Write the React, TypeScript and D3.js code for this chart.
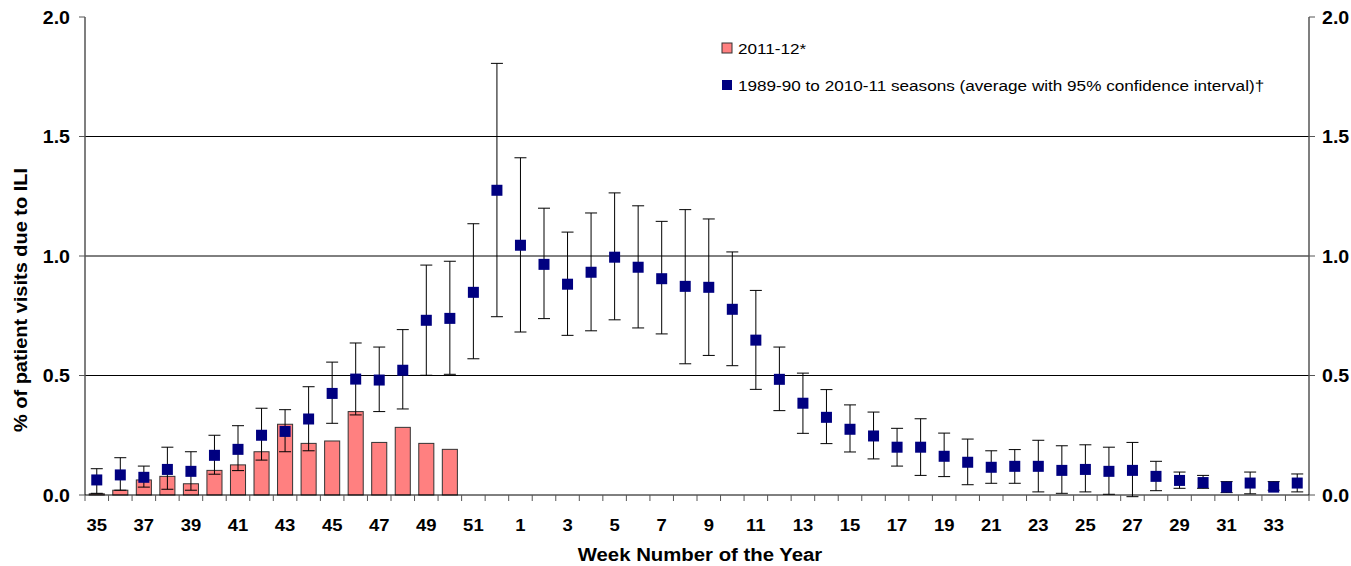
import React from "react";
import * as d3 from "d3";

const weeks: number[] = [
  35, 36, 37, 38, 39, 40, 41, 42, 43, 44, 45, 46, 47, 48, 49, 50, 51, 52,
  1, 2, 3, 4, 5, 6, 7, 8, 9, 10, 11, 12, 13, 14, 15, 16, 17, 18, 19, 20,
  21, 22, 23, 24, 25, 26, 27, 28, 29, 30, 31, 32, 33, 34,
];

const season2011: (number | null)[] = [
  0.005, 0.02, 0.063, 0.078, 0.047, 0.103, 0.126, 0.181, 0.296, 0.216, 0.226,
  0.349, 0.22, 0.283, 0.216, 0.191,
];

const avgValues: number[] = [
  0.063, 0.084, 0.074, 0.107, 0.099, 0.166, 0.191, 0.25, 0.266, 0.318, 0.425,
  0.485, 0.481, 0.522, 0.731, 0.739, 0.848, 1.275, 1.045, 0.965, 0.882, 0.932,
  0.995, 0.953, 0.905, 0.873, 0.869, 0.777, 0.648, 0.484, 0.384, 0.325, 0.275,
  0.247, 0.2, 0.2, 0.162, 0.137, 0.116, 0.12, 0.12, 0.103, 0.107, 0.099, 0.103,
  0.078, 0.061, 0.052, 0.033, 0.05, 0.033, 0.05,
];

const lowerCI: number[] = [
  0.007, 0.02, 0.033, 0.024, 0.02, 0.087, 0.102, 0.146, 0.181, 0.185, 0.3,
  0.335, 0.349, 0.36, 0.501, 0.505, 0.57, 0.746, 0.682, 0.738, 0.668, 0.687,
  0.733, 0.699, 0.674, 0.549, 0.584, 0.541, 0.442, 0.353, 0.258, 0.215, 0.18,
  0.151, 0.121, 0.082, 0.077, 0.043, 0.049, 0.049, 0.013, 0.007, 0.013, 0.003,
  -0.007, 0.018, 0.028, 0.028, 0.01, 0.005, 0.02, 0.013,
];

const upperCI: number[] = [
  0.11, 0.156, 0.121, 0.2, 0.181, 0.25, 0.29, 0.363, 0.357, 0.453, 0.556,
  0.636, 0.619, 0.692, 0.962, 0.978, 1.135, 1.806, 1.411, 1.2, 1.1, 1.18,
  1.264, 1.21, 1.145, 1.194, 1.155, 1.017, 0.856, 0.619, 0.51, 0.441, 0.377,
  0.347, 0.279, 0.319, 0.259, 0.234, 0.185, 0.19, 0.229, 0.206, 0.21, 0.2,
  0.22, 0.141, 0.096, 0.082, 0.056, 0.096, 0.056, 0.088,
];

const yTicks: number[] = [0, 0.5, 1.0, 1.5, 2.0];
const gridValues: number[] = [0.5, 1.0, 1.5];

const legendLabels: string[] = [
  "2011-12*",
  "1989-90 to 2010-11 seasons (average with 95% confidence interval)†",
];

const W = 1351;
const H = 566;
const left = 85;
const right = 1309;
const top = 17;
const bottom = 495;
const FONT = "'Liberation Sans', Arial, sans-serif";
const PINK = "#FF8080";
const NAVY = "#000080";
const SX = 1.12;

function T(props: {
  x: number;
  y: number;
  size: number;
  bold?: boolean;
  anchor?: "start" | "middle" | "end";
  rotate?: number;
  sx?: number;
  children: React.ReactNode;
}) {
  const { x, y, size, bold, anchor = "start", rotate = 0, sx = SX, children } = props;
  return (
    <text
      transform={`translate(${x},${y}) rotate(${rotate}) scale(${sx},1)`}
      fontSize={size}
      fontWeight={bold ? "bold" : "normal"}
      textAnchor={anchor}
      fill="#000"
    >
      {children}
    </text>
  );
}

export default function App() {
  const keys = weeks.map((w, i) => `${i}-${w}`);
  const x = d3.scaleBand<string>().domain(keys).range([left, right]).padding(0);
  const bw = x.bandwidth();
  const y = d3.scaleLinear().domain([0, 2]).range([bottom, top]);
  const cx = (i: number) => (x(keys[i]) as number) + bw / 2;
  const barW = bw * 0.64;
  const capW = 12;
  const marker = 11;

  return (
    <svg
      width={W}
      height={H}
      style={{ position: "absolute", left: 0, top: 0, background: "#fff" }}
      fontFamily={FONT}
    >
      {gridValues.map((v) => (
        <line key={v} x1={left} x2={right} y1={y(v)} y2={y(v)} stroke="#000" strokeWidth={1} />
      ))}

      {season2011.map((v, i) =>
        v == null ? null : (
          <rect
            key={i}
            x={cx(i) - barW / 2}
            y={y(v)}
            width={barW}
            height={y(0) - y(v)}
            fill={PINK}
            stroke="#333"
            strokeWidth={1}
          />
        )
      )}

      {avgValues.map((_, i) => (
        <g key={i} stroke="#000" strokeWidth={1}>
          <line x1={cx(i)} x2={cx(i)} y1={y(lowerCI[i])} y2={y(upperCI[i])} />
          <line x1={cx(i) - capW / 2} x2={cx(i) + capW / 2} y1={y(upperCI[i])} y2={y(upperCI[i])} />
          <line x1={cx(i) - capW / 2} x2={cx(i) + capW / 2} y1={y(lowerCI[i])} y2={y(lowerCI[i])} />
        </g>
      ))}

      {avgValues.map((v, i) => (
        <rect
          key={i}
          x={cx(i) - marker / 2}
          y={y(v) - marker / 2}
          width={marker}
          height={marker}
          fill={NAVY}
        />
      ))}

      <line x1={left} x2={left} y1={top} y2={bottom} stroke="#555" strokeWidth={1.5} />
      <line x1={right} x2={right} y1={top} y2={bottom} stroke="#555" strokeWidth={1.5} />
      <line x1={left} x2={right} y1={bottom} y2={bottom} stroke="#000" strokeWidth={1} />

      {keys.map((k) => (
        <line
          key={k}
          x1={x(k) as number}
          x2={x(k) as number}
          y1={bottom}
          y2={bottom + 6}
          stroke="#555"
        />
      ))}
      <line x1={right} x2={right} y1={bottom} y2={bottom + 6} stroke="#555" />

      {weeks.map((w, i) =>
        i % 2 === 0 ? (
          <T key={i} x={cx(i)} y={531} size={16.5} bold anchor="middle">
            {w}
          </T>
        ) : null
      )}

      {yTicks.map((v) => (
        <g key={v}>
          <line x1={left - 6} x2={left} y1={y(v)} y2={y(v)} stroke="#555" />
          <line x1={right} x2={right + 6} y1={y(v)} y2={y(v)} stroke="#555" />
          <T x={70} y={y(v) + 6.5} size={17.5} bold anchor="end">
            {d3.format(".1f")(v)}
          </T>
          <T x={1322} y={y(v) + 6.5} size={17.5} bold anchor="start">
            {d3.format(".1f")(v)}
          </T>
        </g>
      ))}

      <T x={700} y={561} size={18.5} bold anchor="middle" sx={1.1}>
        Week Number of the Year
      </T>
      <T x={27} y={300} size={18.5} bold anchor="middle" rotate={-90} sx={1.08}>
        % of patient visits due to ILI
      </T>

      <rect x={722} y={43} width={10} height={10} fill={PINK} stroke="#333" strokeWidth={1} />
      <T x={738} y={54} size={15.3}>
        {legendLabels[0]}
      </T>
      <rect x={722} y={80} width={10} height={10} fill={NAVY} />
      <T x={738} y={91} size={15.3}>
        {legendLabels[1]}
      </T>
    </svg>
  );
}
